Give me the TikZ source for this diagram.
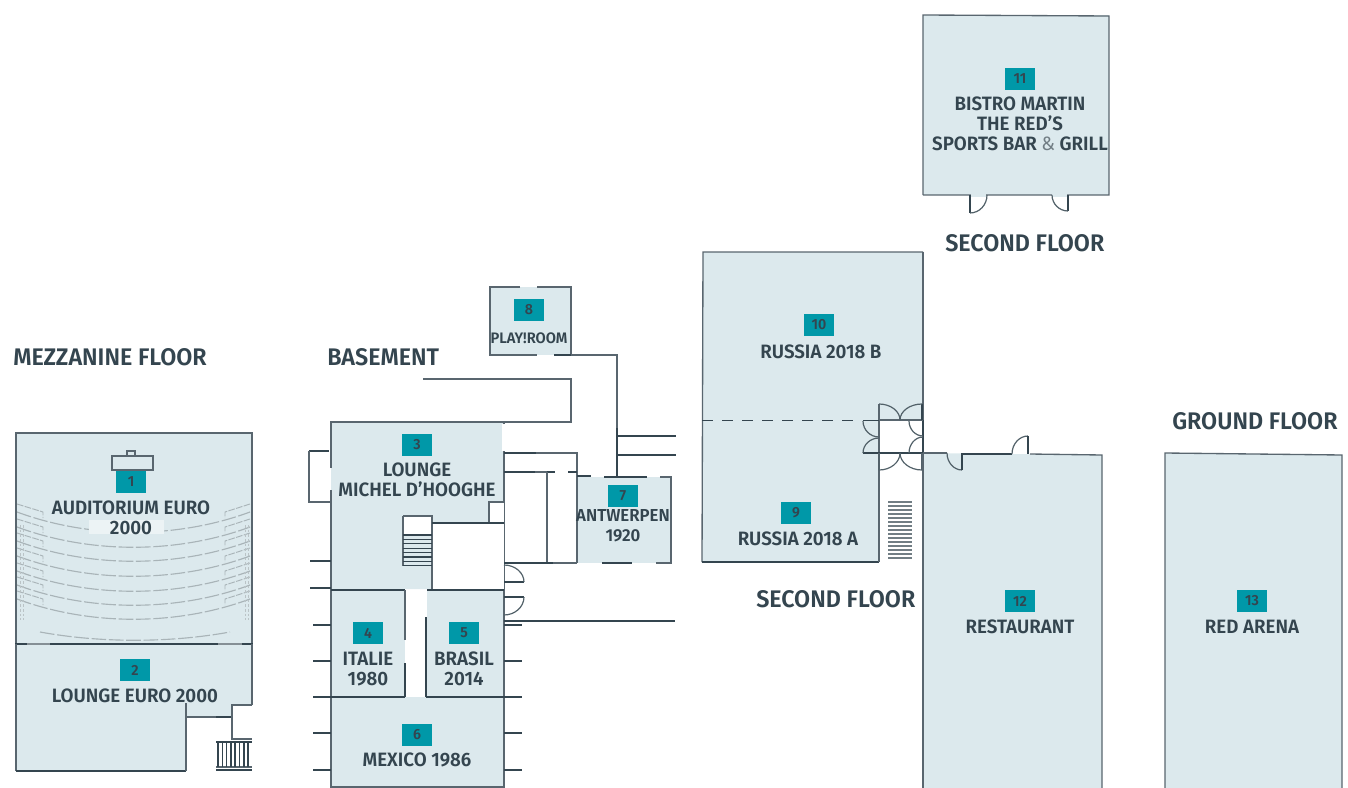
\documentclass[tikz,border=0pt]{standalone}
\usepackage{fontspec}
\usetikzlibrary{calc}
\setmainfont{Fira Sans}[FakeStretch=0.97,BoldFont={Fira Sans SemiBold}]
\definecolor{wall}{HTML}{34454F}
\definecolor{room}{HTML}{DCE9ED}
\definecolor{teal}{HTML}{0098A8}
\definecolor{seat}{HTML}{A9B4B8}
\tikzset{
 x=0.75pt,y=-0.75pt,
 roomfill/.style={fill=room,draw=none},
 thin wall/.style={draw=wall!82!white,line width=1pt},
 thick wall/.style={draw=wall,line width=1.4pt},
 door/.style={draw=wall!85!white,line width=0.9pt},
 seatrow/.style={draw=seat,line width=0.85pt},
 badge/.style={fill=teal,minimum width=22.5pt,minimum height=17pt,inner sep=0pt,text=wall,font=\fontsize{11}{11}\selectfont\bfseries},
 lab/.style={text=wall,align=center,inner sep=0pt,yshift=-0.75pt,font=\fontsize{14.5}{15}\selectfont\bfseries},
 floor/.style={text=wall,inner sep=0pt,font=\fontsize{18}{20}\selectfont\bfseries,anchor=west},
}
% quarter arc of a door: from #1 to #3, with #2 the corner of its tangents
\newcommand{\qarc}[3]{\draw[door] (#1) .. controls ($(#1)!.55!(#2)$) and ($(#3)!.55!(#2)$) .. (#3);}
\begin{document}
\begin{tikzpicture}
\useasboundingbox (0,0) rectangle (1348,788);
% rooms
\fill[roomfill] (16,433) rectangle (252,644);
\fill[roomfill] (16,644) -- (252,644) -- (252,705) -- (232,705) -- (232,717) -- (186,717) -- (186,771) -- (16,771) -- cycle;
\fill[roomfill] (331,422) -- (504,422) -- (504,523) -- (432,523) -- (432,589) -- (331,589) -- cycle;
\fill[roomfill] (331,589) rectangle (405,697);
\fill[roomfill] (427,589) rectangle (504,697);
\fill[roomfill] (331,697) rectangle (504,787);
\fill[roomfill] (577,477) rectangle (671,563);
\fill[roomfill] (490,287) rectangle (571,355);
\fill[roomfill] (703,252) -- (923,252) -- (923,420) -- (879,420) -- (879,562) -- (702,562) -- cycle;
\fill[roomfill] (923,15) rectangle (1109,195);
\fill[roomfill] (923,453) -- (1102,455) -- (1102,788) -- (923,788) -- cycle;
\fill[roomfill] (1165,453) -- (1342,455) -- (1342,788) -- (1165,788) -- cycle;
% auditorium seating
\foreach \y in {538,553,567,582,597,611,625}{
 \draw[seatrow,dash pattern=on 11pt off 2pt] (17,\y-26) .. controls (90,\y+1) and (177,\y+1) .. (250,\y-26);
 \draw[seatrow,line width=0.7pt,dash pattern=on 5pt off 1pt] (17,\y-34) -- (43,\y-26) -- (43,\y-20);
 \draw[seatrow,line width=0.7pt,dash pattern=on 5pt off 1pt] (250,\y-34) -- (225,\y-26) -- (225,\y-20);
}
\draw[seatrow,dash pattern=on 11pt off 2pt] (40,632) .. controls (100,643) and (170,643) .. (230,632);
\foreach \x in {20,23,245,248}{\draw[seat!80!white,line width=0.7pt,dash pattern=on 2pt off 1.5pt] (\x,525) -- (\x,620);}
\fill[room!55!white] (89,520) rectangle (164,534);
% auditorium + lounge walls
\draw[thin wall] (16,644) -- (16,433) -- (252,433) -- (252,644);
\draw[thick wall] (15,644) -- (253,644);
\draw[thin wall,draw=wall!60!white] (27,644) -- (50,644) (218,644) -- (242,644);
\draw[thin wall] (112,456) rectangle (153,470);
\draw[thin wall] (127,451) rectangle (135,456);
\draw[thin wall] (16,644) -- (16,771);
\draw[thick wall] (16,771) -- (186,771);
\draw[thin wall] (186,771) -- (186,703);
\draw[thin wall] (186,717) -- (216,717);
\draw[thick wall] (216,717) -- (232,717);
\draw[thin wall] (252,644) -- (252,705);
\draw[thin wall] (252,705) -- (232,705) -- (232,739) -- (252,739);
\draw[thick wall] (216,742) -- (252,742);
\draw[thick wall] (216,770) -- (252,770);
\draw[thin wall] (216,767) -- (252,767);
\foreach \x in {218,222.3,...,252}{\draw[thick wall,line width=1.1pt] (\x,742) -- (\x,767);}
% basement
\draw[thin wall] (331,589) -- (331,422) -- (504,422) -- (504,787) -- (331,787) -- (331,589);
\fill[white] (329,468) rectangle (333,490);
\fill[room] (330.5,468) rectangle (333,490);
\fill[white] (502,424) rectangle (506,451);
\draw[thick wall] (309,451) -- (329,451);
\draw[thin wall] (309,451) -- (309,502) -- (331,502);
\draw[thick wall] (310,561) -- (331,561);
\draw[thick wall] (310,588) -- (331,588);
\fill[white] (403,516) rectangle (432,535);
\draw[thin wall] (403,516) -- (432,516) -- (432,589);
\draw[thin wall] (403,516) -- (403,566);
\foreach \y in {535,539.4,...,566.5}{\draw[thick wall,line width=1pt] (403,\y) -- (432,\y);}
\fill[white] (432.5,523) rectangle (503.5,589);
\draw[thick wall] (432,523) -- (504,523);
\fill[white] (489,502) rectangle (503.5,522);
\draw[thin wall] (489,522) -- (489,502) -- (504,502);
\draw[thick wall] (331,590) -- (405,590);
\draw[thick wall] (427,590) -- (504,590);
\draw[thin wall] (405,590) -- (405,640);
\draw[thick wall] (405,663) -- (405,697);
\draw[thick wall] (426,617) -- (426,697);
\draw[thick wall] (313,697) -- (405,697);
\draw[thick wall] (426,697) -- (522,697);
\foreach \y in {625,661,733,770}{\draw[thick wall] (313,\y) -- (331,\y);}
\foreach \y in {625,661,733,770}{\draw[thick wall] (504,\y) -- (522,\y);}
\draw[thick wall] (504,621) -- (675,621);
% doors of basement
\draw[thick wall] (504,582) -- (524,582);
\qarc{524,582}{524,565}{504,565}
\draw[thick wall] (504,597) -- (524,597);
\qarc{524,597}{524,615}{504,615}
% corridor
\draw[thin wall] (423,379) -- (571,379) -- (571,422) -- (504,422);
\draw[thick wall] (504,453) -- (536,453);
\draw[thin wall] (536,453) -- (577,453) -- (577,477);
\draw[thick wall] (504,472) -- (535,472);
\draw[thin wall] (535,472) -- (547,472);
\draw[thick wall] (547,472) -- (555,472);
\draw[thick wall] (568,472) -- (577,472);
\draw[thin wall] (547,472) -- (547,563);
\draw[thick wall] (504,563) -- (553,563);
\draw[thin wall] (553,563) -- (577,563);
\draw[thin wall] (577,477) -- (577,563);
% antwerpen
\draw[thick wall] (577,476) -- (591,476);
\draw[thick wall] (604,477) -- (647,477);
\draw[thin wall] (660,477) -- (671,477) -- (671,563) -- (656,563);
\draw[thick wall] (602,563) -- (632,563);
% playroom
\draw[thin wall] (520,287) -- (490,287) -- (490,355) -- (537,355);
\draw[thin wall] (537,287) -- (571,287) -- (571,355);
\draw[thick wall] (554,355) -- (571,355);
\draw[thin wall] (571,355) -- (617,355) -- (617,428);
\draw[thick wall] (617,428) -- (617,477);
\draw[thick wall] (617,436) -- (676,436);
\draw[thick wall] (617,455) -- (676,455);
% russia
\draw[thin wall] (923,252) -- (703,252) -- (702,562);
\draw[thick wall] (702,562) -- (879,562);
\draw[thin wall] (879,404) -- (879,562);
\draw[thin wall,line width=1.2pt] (923,252) -- (923,420);
\draw[thick wall,line width=1.2pt] (923,420) -- (923,453);
\draw[thick wall,line width=1pt,dash pattern=on 8pt off 7pt] (702,420.5) -- (856,420.5);
\draw[thick wall] (863,420.5) -- (879,420.5);
\draw[thick wall] (863,453) -- (923,453);
\draw[thin wall] (879,420) -- (923,420);
% russia doors
\qarc{879,404}{900,404}{900,420}
\draw[thick wall] (922,404) -- (922,420);
\qarc{922,404}{900,404}{900,420}
\draw[door] (879,470) -- (879,453);
\qarc{879,470}{900,470}{900,453}
\draw[door] (922,470) -- (922,453);
\qarc{922,470}{900,470}{900,453}
\qarc{863,421}{863,437}{879,437}
\qarc{863,453}{863,438}{879,438}
\qarc{909,421}{909,436}{923,436}
\qarc{909,453}{909,437}{923,437}
\foreach \y in {502,506,...,558}{\draw[thick wall,draw=wall!70!white,line width=1pt] (888,\y) -- (912,\y);}
% restaurant
\draw[thin wall] (923,453) -- (947,453);
\qarc{947,453}{947,470}{962,470}
\draw[thick wall] (962,470) -- (962,454) -- (1012,454);
\qarc{1012,454}{1012,436}{1028,436}
\draw[thick wall] (1028,436) -- (1028,454);
\draw[thin wall] (1030,454) -- (1102,455) -- (1102,788);
\draw[thin wall,line width=1.2pt] (923,453) -- (923,788);
% arena
\draw[thin wall] (1165,788) -- (1165,453) -- (1342,455) -- (1342,788);
% bistro
\draw[thin wall] (923,195) -- (923,15) -- (1109,16) -- (1109,195) -- (923,195);
\fill[room] (971,193.5) rectangle (986,196.5);
\fill[room] (1052,193.5) rectangle (1067,196.5);
\draw[thick wall] (970,195) -- (970,213);
\qarc{970,213}{987,213}{987,195}
\draw[thick wall] (1068,195) -- (1068,211);
\qarc{1068,211}{1052,211}{1052,195}
% badges
\node[badge] (b1) at (131,482) {1};
\node[badge] (b2) at (135,670) {2};
\node[badge] (b3) at (417,445) {3};
\node[badge] (b4) at (368,633) {4};
\node[badge] (b5) at (464,633) {5};
\node[badge] (b6) at (417,735) {6};
\node[badge] (b7) at (623,496) {7};
\node[badge] (b8) at (529,310) {8};
\node[badge] (b9) at (796,513) {9};
\node[badge] (b10) at (819,325) {10};
\node[badge] (b11) at (1020,79) {11};
\node[badge] (b12) at (1020,601) {12};
\node[badge] (b13) at (1252,601) {13};
% labels
\node[lab] (l1) at (131,517) {AUDITORIUM EURO\\2000};
\node[lab] (l2) at (135,695) {LOUNGE EURO 2000};
\node[lab] (l3) at (417,479) {LOUNGE\\MICHEL D’HOOGHE};
\node[lab] (l4) at (368,668) {ITALIE\\1980};
\node[lab] (l5) at (464,668) {BRASIL\\2014};
\node[lab] (l6) at (417,759) {MEXICO 1986};
\node[lab,font=\fontsize{13}{15}\selectfont\bfseries] (l7) at (623,525) {ANTWERPEN\\1920};
\node[lab,font=\fontsize{11.4}{13}\selectfont\bfseries] (l8) at (529,337) {PLAY!ROOM};
\node[lab] (l9) at (798,538) {RUSSIA 2018 A};
\node[lab] (l10) at (821,351) {RUSSIA 2018 B};
\node[lab] (l11) at (1020,123) {BISTRO MARTIN\\THE RED’S\\SPORTS BAR {\mdseries\color{wall!70!white}\&} GRILL};
\node[lab] (l12) at (1020,626) {RESTAURANT};
\node[lab] (l13) at (1252,626) {RED ARENA};
\node[floor] (f1) at (13,357) {MEZZANINE FLOOR};
\node[floor] (f2) at (327,357) {BASEMENT};
\node[floor] (f3) at (756,599) {SECOND FLOOR};
\node[floor] (f4) at (945,243) {SECOND FLOOR};
\node[floor] (f5) at (1172,421) {GROUND FLOOR};
\end{tikzpicture}
\end{document}
